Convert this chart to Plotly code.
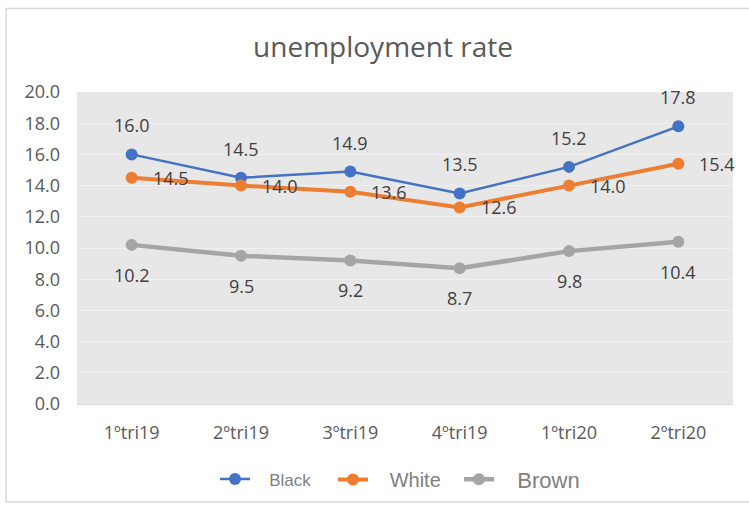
import plotly.graph_objects as go

categories = ["1ºtri19", "2ºtri19", "3ºtri19", "4ºtri19", "1ºtri20", "2ºtri20"]
black = [16.0, 14.5, 14.9, 13.5, 15.2, 17.8]
white = [14.5, 14.0, 13.6, 12.6, 14.0, 15.4]
brown = [10.2, 9.5, 9.2, 8.7, 9.8, 10.4]
y_ticks = [0, 2, 4, 6, 8, 10, 12, 14, 16, 18, 20]

BLUE = "#4472C4"
ORANGE = "#ED7D31"
GRAY = "#A5A5A5"
FONT = "Open Sans"
NB = "\u00a0"

PL, PR, PT, PB = 77, 733, 92, 410
PW, PH = PR - PL, PB - PT


def px_x(px):
    return (px - PL) / PW


def px_y(py):
    return (PB - py) / PH


fig = go.Figure()
fig.add_trace(go.Scatter(
    x=categories, y=black, mode="lines+markers", name=NB * 3 + "Black", legend="legend",
    line=dict(color=BLUE, width=2.5), marker=dict(color=BLUE, size=12)))
fig.add_trace(go.Scatter(
    x=categories, y=white, mode="lines+markers", name=NB * 3 + "White", legend="legend2",
    line=dict(color=ORANGE, width=4), marker=dict(color=ORANGE, size=12)))
fig.add_trace(go.Scatter(
    x=categories, y=brown, mode="lines+markers", name=NB * 3 + "Brown", legend="legend3",
    line=dict(color=GRAY, width=4.5), marker=dict(color=GRAY, size=12)))

annotations = []
lab_font = dict(family=FONT, size=18, color="#404040")
for c, v in zip(categories, black):
    annotations.append(dict(x=c, y=v, xref="x", yref="y", text=f"{v:.1f}",
                            showarrow=False, yshift=29, font=lab_font))
for c, v in zip(categories, white):
    annotations.append(dict(x=c, y=v, xref="x", yref="y", text=f"{v:.1f}",
                            showarrow=False, xanchor="left", xshift=19, yshift=0,
                            font=lab_font))
for c, v in zip(categories, brown):
    annotations.append(dict(x=c, y=v, xref="x", yref="y", text=f"{v:.1f}",
                            showarrow=False, yshift=-30, font=lab_font))


def leg(px_left, size):
    return dict(x=px_x(px_left), xanchor="left", y=px_y(487), yanchor="middle",
                orientation="h", bgcolor="rgba(0,0,0,0)",
                font=dict(family="Liberation Sans", size=size, color="#808080"))


fig.update_layout(
    width=749, height=512,
    margin=dict(l=PL, r=749 - PR, t=PT, b=512 - PB),
    paper_bgcolor="white",
    plot_bgcolor="#E8E7E7",
    title=dict(text="unemployment rate", x=(383 - PL) / PW, xref="paper", xanchor="center",
               y=1 - 47 / 512, yanchor="middle",
               font=dict(family=FONT, size=28, color="#595959")),
    showlegend=True,
    legend=leg(215, 17),
    legend2=leg(333, 20),
    legend3=leg(459, 22),
    annotations=annotations,
    shapes=[dict(type="rect", xref="paper", yref="paper",
                 x0=px_x(6), x1=px_x(760), y0=px_y(510), y1=px_y(7),
                 line=dict(color="#D9D9D9", width=1.5), fillcolor="rgba(0,0,0,0)",
                 layer="below")],
)
fig.update_xaxes(type="category", range=[-0.5, 5.5], showgrid=False, automargin=False,
                 showline=True, linecolor="#D9D9D9", linewidth=1,
                 tickfont=dict(family=FONT, size=18, color="#595959"),
                 ticklabelstandoff=12, ticks="")
fig.update_yaxes(range=[0, 20], tickvals=y_ticks, tickformat=".1f", automargin=False,
                 showgrid=True, gridcolor="#F0F0F0", gridwidth=1, zeroline=False,
                 tickfont=dict(family=FONT, size=18, color="#595959"),
                 ticklabelstandoff=16, ticks="")

fig.write_html("out.html", config={"displayModeBar": False},
               post_script="document.body.style.margin='0';document.body.style.overflow='hidden';")
